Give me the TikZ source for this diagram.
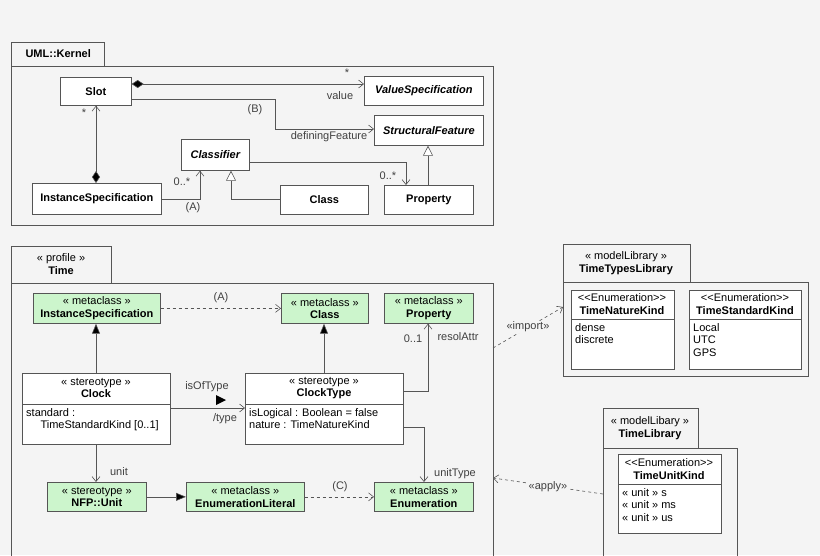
\documentclass[tikz,border=0pt]{standalone}
\usepackage{fontspec}
\setmainfont{Liberation Sans}
\usetikzlibrary{arrows.meta,shapes.geometric}
\definecolor{bggray}{HTML}{F4F4F4}
\definecolor{linegray}{HTML}{555555}
\definecolor{metagreen}{HTML}{CCF5CC}
\tikzset{
  box/.style = {draw = linegray, fill = white, inner sep = 0pt, line width = .7pt},
  meta/.style = {box, fill = metagreen, align = center, font = \fontsize{11}{12.5}\selectfont},
  pkg/.style = {draw = linegray, line width = .9pt},
  lbl/.style = {font = \fontsize{11}{12.5}\selectfont, text = black!75, inner sep = 1pt},
  assoc/.style = {draw = linegray, line width = .6pt, -{Straight Barb[length = 5pt, width = 8pt]}},
  dep/.style = {assoc, dashed},
  comp/.style = {draw = linegray, line width = .6pt, {Diamond[length = 12pt, width = 8pt, fill = black]}-{Straight Barb[length = 5pt, width = 8pt]}},
  gen/.style = {draw = linegray, line width = .6pt, -{Triangle[open, length = 10pt, width = 10pt, fill = white]}},
  ext/.style = {draw = linegray, line width = .6pt, -{Triangle[length = 10pt, width = 8pt, fill = black]}},
}
\newcommand{\bx}[5]{% name, x1, y1, x2, y2
  \node[box, minimum width = #4pt - #2pt, minimum height = #5pt - #3pt, anchor = north west] (#1) at (#2, #3) {};}
\newcommand{\enumst}{<\kern0pt<Enumeration>\kern0pt>}
\begin{document}
\begin{tikzpicture}[x = 1pt, y = -1pt, font = \fontsize{11}{12.5}\selectfont]
    \fill [bggray] (0, 0) rectangle (820, 555);
    \useasboundingbox (0, 0) rectangle (820, 555);

    % UML::Kernel package
    \draw [pkg] (11, 66) rectangle (104, 42);
    \draw [pkg] (11, 66) rectangle (493, 225);
    \node [anchor = west, font = \fontsize{11}{12.5}\selectfont\bfseries] at (22, 54) {UML::Kernel};

    \bx{slot}{60}{77}{131}{105}
    \bx{valspec}{364}{76}{483}{105}
    \bx{strfeat}{374}{115}{483}{145}
    \bx{classifier}{181}{139}{249}{170}
    \bx{instspec}{32}{183}{161}{214}
    \bx{class}{280}{185}{368}{214}
    \bx{property}{384}{185}{473}{214}
    \node [font = \fontsize{11}{12.5}\selectfont\bfseries] at (slot) {Slot};
    \node [font = \fontsize{11}{12.5}\selectfont\bfseries\itshape] at (valspec) {ValueSpecification};
    \node [font = \fontsize{11}{12.5}\selectfont\bfseries\itshape] at (strfeat) {StructuralFeature};
    \node [font = \fontsize{11}{12.5}\selectfont\bfseries\itshape] at (classifier) {Classifier};
    \node [font = \fontsize{11}{12.5}\selectfont\bfseries] at (instspec) {InstanceSpecification};
    \node [font = \fontsize{11}{12.5}\selectfont\bfseries] at (class) {Class};
    \node [font = \fontsize{11}{12.5}\selectfont\bfseries] at (property) {Property};

    \draw [comp] (slot.east |- 0, 84) -- (valspec.west |- 0, 84);
    \node [lbl] at (347, 73) {*};
    \node [lbl] at (340, 96) {value};
    \draw [assoc] (slot.east |- 0, 99) -- (275, 99) -- (275, 129) -- (strfeat.west |- 0, 129);
    \node [lbl] at (255, 110) {(B)};
    \node [lbl] at (329, 137) {definingFeature};
    \draw [comp] (instspec.north -| 96, 0) -- (slot.south -| 96, 0);
    \node [lbl] at (84, 113) {*};
    \draw [assoc] (instspec.east |- 0, 199) -- (200, 199) -- (classifier.south -| 200, 0);
    \node [lbl] at (182, 182) {0..*};
    \node [lbl] at (193, 208) {(A)};
    \draw [gen] (class.west |- 0, 199) -- (231, 199) -- (classifier.south -| 231, 0);
    \draw [assoc] (classifier.east |- 0, 162) -- (406, 162) -- (property.north -| 406, 0);
    \node [lbl] at (388, 176) {0..*};
    \draw [gen] (property.north -| 428, 0) -- (strfeat.south -| 428, 0);

    % Time profile
    \draw [pkg] (11, 283) rectangle (111, 246);
    \draw [pkg] (11, 283) -- (493, 283) -- (493, 560);
    \draw [pkg] (11, 283) -- (11, 560);
    \node [align = center] at (61, 264) {« profile »\\\textbf{Time}};

    \node [meta, minimum width = 127pt, minimum height = 30pt, anchor = north west] (minst) at (33, 293) {« metaclass »\\\textbf{InstanceSpecification}};
    \node [meta, minimum width = 87pt, minimum height = 30pt, anchor = north west] (mclass) at (281, 293) {« metaclass »\\\textbf{Class}};
    \node [meta, minimum width = 89pt, minimum height = 30pt, anchor = north west] (mprop) at (384, 293) {« metaclass »\\\textbf{Property}};
    \node [meta, minimum width = 99pt, minimum height = 29pt, anchor = north west] (unit) at (47, 482) {« stereotype »\\\textbf{NFP::Unit}};
    \node [meta, minimum width = 118pt, minimum height = 29pt, anchor = north west] (menumlit) at (186, 482) {« metaclass »\\\textbf{EnumerationLiteral}};
    \node [meta, minimum width = 99pt, minimum height = 29pt, anchor = north west] (menum) at (374, 482) {« metaclass »\\\textbf{Enumeration}};

    \bx{clock}{22}{373}{170}{444}
    \draw [linegray, line width = .6pt] (22, 404) -- (170, 404);
    \node [align = center] at (96, 388) {« stereotype »\\\textbf{Clock}};
    \node [anchor = north west, align = left, inner sep = 1pt] at (25, 407) {standard :\\\hspace{1.3em}TimeStandardKind [0..1]};
    \bx{clocktype}{245}{373}{403}{444}
    \draw [linegray, line width = .6pt] (245, 404) -- (403, 404);
    \node [align = center] at (324, 388) {« stereotype »\\\textbf{ClockType}};
    \node [anchor = north west, align = left, inner sep = 1pt] at (248, 407) {isLogical : Boolean = false\\nature : TimeNatureKind};

    \draw [dep] (minst) -- (mclass);
    \node [lbl] at (221, 298) {(A)};
    \draw [ext] (clock.north -| 96, 0) -- (minst.south -| 96, 0);
    \draw [ext] (clocktype.north -| 324, 0) -- (mclass.south -| 324, 0);
    \draw [assoc] (clocktype.east |- 0, 391) -- (428, 391) -- (mprop.south -| 428, 0);
    \node [lbl] at (413, 339) {0..1};
    \node [lbl] at (458, 337) {resolAttr};
    \draw [assoc] (clock.east |- 0, 408) -- (clocktype.west |- 0, 408);
    \node [lbl] at (207, 387) {isOfType};
    \fill [black] (216, 395) -- (226, 400) -- (216, 405) -- cycle;
    \node [lbl] at (225, 419) {/type};
    \draw [assoc] (clocktype.east |- 0, 427) -- (424, 427) -- (menum.north -| 424, 0);
    \node [lbl] at (455, 474) {unitType};
    \draw [assoc] (clock.south -| 96, 0) -- (unit.north -| 96, 0);
    \node [lbl] at (119, 472) {unit};
    \draw [ext] (unit) -- (menumlit);
    \draw [dep] (menumlit) -- (menum);
    \node [lbl] at (340, 487) {(C)};

    % TimeTypesLibrary
    \draw [pkg] (563, 282) rectangle (690, 244);
    \draw [pkg] (563, 282) rectangle (808, 376);
    \node [align = center] (ttlib) at (626, 263) {« modelLibrary »\\\textbf{TimeTypesLibrary}};
    \bx{naturekind}{571}{290}{674}{369}
    \draw [linegray, line width = .6pt] (571, 319) -- (674, 319);
    \node [align = center] at (622, 304) {\enumst\\\textbf{TimeNatureKind}};
    \node [anchor = north west, align = left, inner sep = 1pt] at (574, 322) {dense\\discrete};
    \bx{standardkind}{689}{290}{801}{369}
    \draw [linegray, line width = .6pt] (689, 319) -- (801, 319);
    \node [align = center] at (745, 304) {\enumst\\\textbf{TimeStandardKind}};
    \node [anchor = north west, align = left, inner sep = 1pt] at (692, 322) {Local\\UTC\\GPS};

    % TimeLibrary
    \draw [pkg] (603, 448) rectangle (698, 408);
    \draw [pkg] (603, 448) -- (737, 448) -- (737, 560);
    \draw [pkg] (603, 448) -- (603, 560);
    \node [align = center] at (650, 428) {« modelLibary »\\\textbf{TimeLibrary}};
    \bx{unitkind}{618}{454}{721}{533}
    \draw [linegray, line width = .6pt] (618, 484) -- (721, 484);
    \node [align = center] at (669, 469) {\enumst\\\textbf{TimeUnitKind}};
    \node [anchor = north west, align = left, inner sep = 1pt] at (621, 487) {« unit » s\\« unit » ms\\« unit » us};

    \coordinate (impfrom) at (493, 348);
    \coordinate (impto) at (563, 307);
    \draw [dep] (impfrom) -- (impto);
    \node [lbl, fill = bggray] at (528, 327) {«import»};
    \coordinate (appfrom) at (603, 494);
    \coordinate (appto) at (493, 478);
    \draw [dep] (appfrom) -- (appto);
    \node [lbl, fill = bggray] at (548, 487) {«apply»};
\end{tikzpicture}
\end{document}
